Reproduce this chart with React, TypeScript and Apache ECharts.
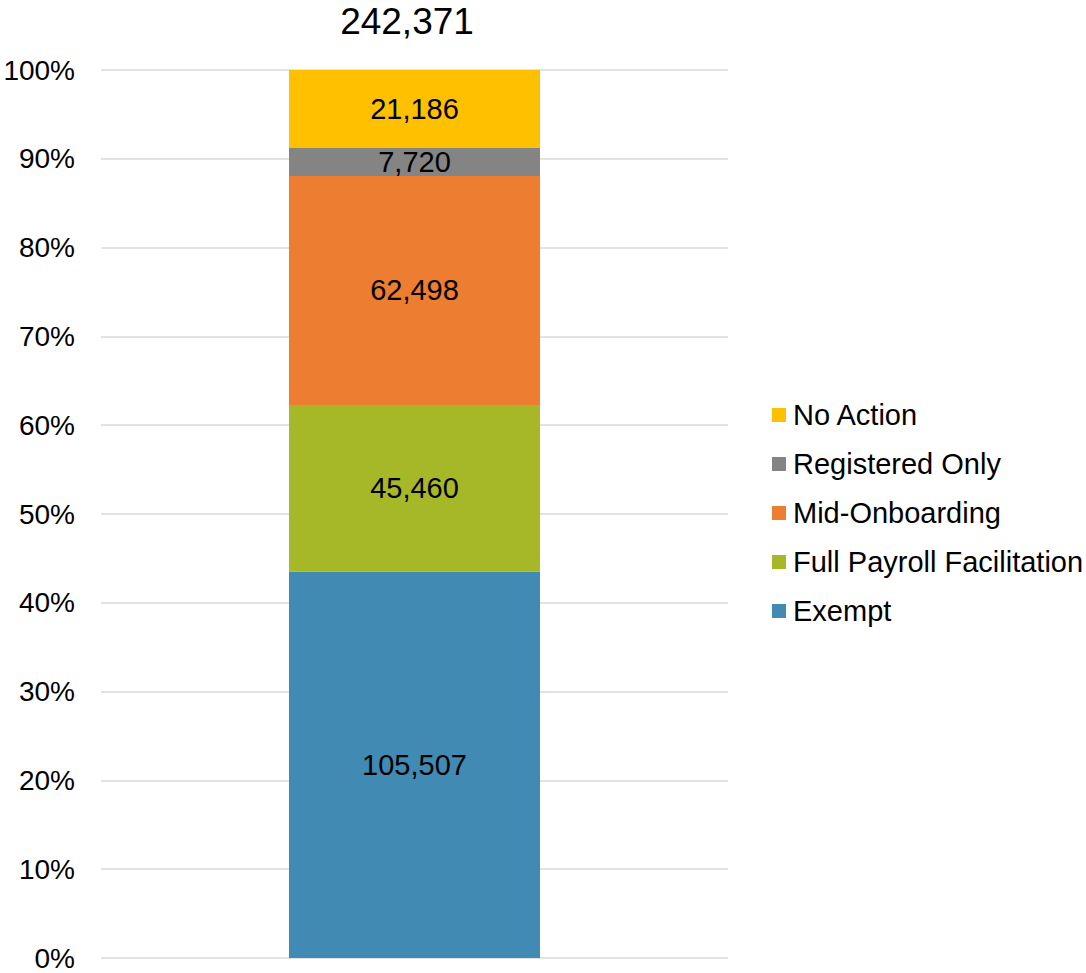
import React, { useEffect, useRef } from "react";
import * as echarts from "echarts";

const categories = [""];
const seriesNames = ["Exempt", "Full Payroll Facilitation", "Mid-Onboarding", "Registered Only", "No Action"];
const seriesValues = [105507, 45460, 62498, 7720, 21186];
const seriesColors = ["#418AB3", "#A6B727", "#ED7D31", "#848484", "#FFC000"];
const totalLabel = "242,371";

export default function App() {
  const ref = useRef<HTMLDivElement>(null);
  useEffect(() => {
    document.body.style.margin = "0";
    const chart = echarts.init(ref.current!, null, { renderer: "svg" });
    const total = seriesValues.reduce((a, b) => a + b, 0);
    const font = "'Liberation Sans', Arial, sans-serif";
    chart.setOption({
      animation: false,
      title: {
        text: totalLabel,
        left: 402,
        top: -2,
        textAlign: "center",
        textStyle: { fontFamily: font, fontSize: 37, fontWeight: "normal", color: "#000" },
      },
      legend: {
        orient: "vertical",
        left: 767,
        top: 393,
        itemWidth: 14,
        itemHeight: 14,
        itemGap: 15,
        icon: "rect",
        data: [...seriesNames].reverse(),
        textStyle: { fontFamily: font, fontSize: 29, color: "#000", lineHeight: 34, padding: [0, 0, 0, 2] },
      },
      grid: { left: 101, right: 358, top: 70, bottom: 15, containLabel: false },
      xAxis: {
        type: "category",
        data: categories,
        axisLine: { show: false },
        axisTick: { show: false },
        axisLabel: { show: false },
      },
      yAxis: {
        type: "value",
        min: 0,
        max: 1,
        interval: 0.1,
        axisLine: { show: false },
        axisTick: { show: false },
        axisLabel: {
          margin: 26,
          fontFamily: font,
          fontSize: 28,
          color: "#000",
          formatter: (v: number) => Math.round(v * 100) + "%",
        },
        splitLine: { lineStyle: { color: "#D9D9D9", width: 1.5 } },
      },
      series: seriesNames.map((name, i) => ({
        name,
        type: "bar",
        stack: "all",
        barWidth: 251,
        itemStyle: { color: seriesColors[i] },
        label: {
          show: true,
          position: "inside",
          fontFamily: font,
          fontSize: 29,
          color: "#000",
          formatter: () => seriesValues[i].toLocaleString("en-US"),
        },
        data: [seriesValues[i] / total],
      })),
    });
    return () => chart.dispose();
  }, []);
  return <div ref={ref} style={{ width: 1086, height: 973 }} />;
}
